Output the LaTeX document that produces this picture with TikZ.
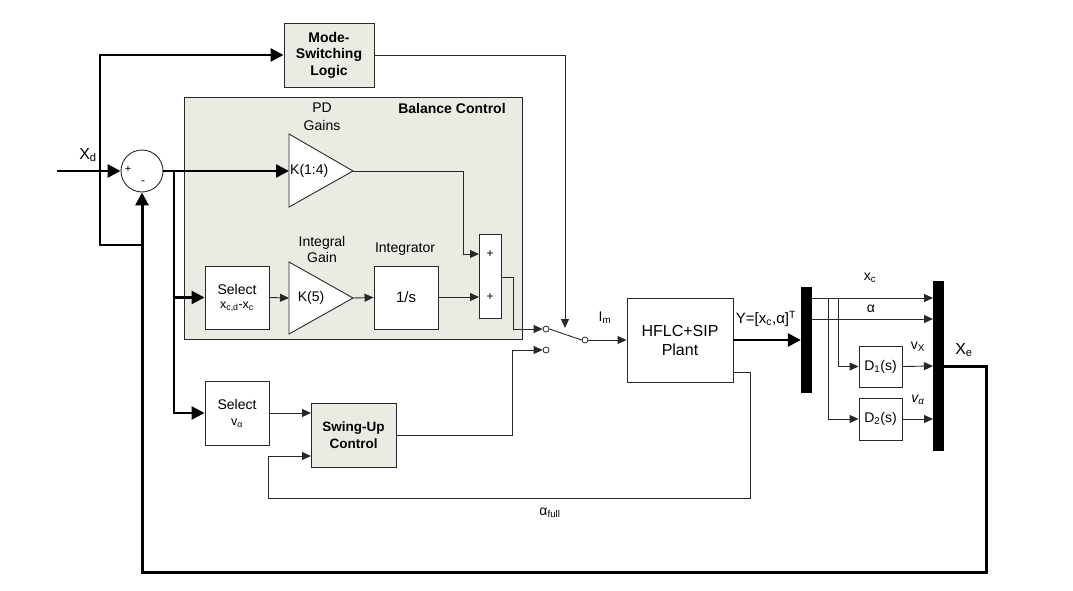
\documentclass[tikz,border=0pt]{standalone}
\usepackage{fontspec}
\setmainfont{Liberation Sans}
\usetikzlibrary{arrows.meta,calc}
\definecolor{regfill}{RGB}{234,236,227}
\definecolor{lin}{RGB}{40,40,40}
\begin{document}
\begin{tikzpicture}[x=1pt,y=-1pt,
  thn/.style={line width=0.9pt,draw=lin},
  thk/.style={line width=2.6pt,draw=black},
  ta/.style={-{Triangle[length=9pt,width=8pt]}},
  tka/.style={-{Triangle[length=13pt,width=13pt]}},
  blk/.style={draw=lin,line width=0.9pt,fill=white,inner sep=0pt,align=center},
  gblk/.style={blk,fill=regfill,font=\fontsize{13}{16}\selectfont\bfseries},
  bar/.style={fill=black,draw=none,inner sep=0pt},
  ct/.style={circle,draw=lin,fill=white,line width=0.8pt,minimum size=6pt,inner sep=0pt},
  lbl/.style={inner sep=0pt,align=center}
]
\useasboundingbox (0,0) rectangle (1073,591);
\fill[white] (0,0) rectangle (1073,591);

% balance control region
\node[draw=lin,line width=0.9pt,fill=regfill,minimum width=338pt,minimum height=242pt,inner sep=0pt] (bal) at (353,218) {};
\node[lbl,font=\fontsize{14}{16}\selectfont\bfseries] (baltxt) at (452,108) {Balance Control};

% blocks
\node[gblk,minimum width=90pt,minimum height=64pt,font=\fontsize{14}{16.5}\selectfont\bfseries] (mode) at (329,55) {Mode-\\Switching\\Logic};
\node[circle,draw=lin,line width=0.9pt,fill=white,minimum size=42pt,inner sep=0pt] (sum) at (142,171) {};
\node[lbl,font=\fontsize{11}{12}\selectfont] (plus) at (128,169) {+};
\node[lbl,font=\fontsize{12}{12}\selectfont] (minus) at (143,183) {-};

\node[blk,minimum width=64pt,minimum height=63pt] (selx) at (237,297.5) {};
\node[lbl,font=\fontsize{14}{16}\selectfont] (selxa) at (237,289) {Select};
\node[lbl,font=\fontsize{12.5}{14}\selectfont] (selxb) at (237,307) {x\textsubscript{c,d}-x\textsubscript{c}};

\node[blk,minimum width=64pt,minimum height=63pt,font=\fontsize{15}{18}\selectfont] (integ) at (406,297.5) {1/s};
\node[blk,minimum width=22pt,minimum height=84pt] (sumbox) at (490,276) {};
\node[lbl,font=\fontsize{12}{12}\selectfont] (sp1) at (490,254) {+};
\node[lbl,font=\fontsize{12}{12}\selectfont] (sp2) at (490,297) {+};

\node[blk,minimum width=64pt,minimum height=64pt] (selv) at (237,413) {};
\node[lbl,font=\fontsize{14}{16}\selectfont] (selva) at (237,404) {Select};
\node[lbl,font=\fontsize{12.5}{14}\selectfont] (selvb) at (237,423) {v\textsubscript{α}};

\node[gblk,minimum width=85pt,minimum height=64pt,font=\fontsize{13.5}{16.5}\selectfont\bfseries] (swing) at (353.5,435) {Swing-Up\\Control};

\node[blk,minimum width=106pt,minimum height=84pt,font=\fontsize{16}{19}\selectfont] (plant) at (680,340) {HFLC+SIP\\Plant};

\node[bar,minimum width=11pt,minimum height=106pt] (mux1) at (806.5,340) {};
\node[bar,minimum width=11pt,minimum height=170pt] (mux2) at (938.5,366) {};
\node[blk,minimum width=43pt,minimum height=41pt,font=\fontsize{14}{16}\selectfont] (d1) at (880.5,366.5) {D\textsubscript{1}(s)};
\node[blk,minimum width=43pt,minimum height=42pt,font=\fontsize{14}{16}\selectfont] (d2) at (880.5,419) {D\textsubscript{2}(s)};

% triangles (gains)
\draw[thn,fill=white] (289,134) -- (353,171) -- (289,207) -- cycle;
\coordinate (k14in) at (289,171);
\coordinate (k14out) at (353,171);
\node[lbl,font=\fontsize{14}{16}\selectfont,anchor=west] (k14) at (290,171) {K(1:4)};
\draw[thn,fill=white] (289,262) -- (353,298) -- (289,334) -- cycle;
\coordinate (k5in) at (289,298);
\coordinate (k5out) at (353,298);
\node[lbl,font=\fontsize{14}{16}\selectfont] (k5) at (311,298) {K(5)};

\node[lbl,font=\fontsize{14}{18}\selectfont] (pdg) at (322,117) {PD\\Gains};
\node[lbl,font=\fontsize{14}{15.5}\selectfont] (ig) at (322,249.5) {Integral\\Gain};
\node[lbl,font=\fontsize{14}{16}\selectfont] (itxt) at (405,249) {Integrator};

% switch contacts
\node[ct] (c1) at (546,329) {};
\node[ct] (c2) at (546,350) {};
\node[ct] (c3) at (585,340) {};

% labels
\node[lbl,font=\fontsize{16}{16}\selectfont] (xd) at (88,155) {X\textsubscript{d}};
\node[lbl,font=\fontsize{14}{16}\selectfont] (im) at (605,318) {I\textsubscript{m}};
\node[lbl,font=\fontsize{15}{16}\selectfont] (ylab) at (766,319) {Y=[x\textsubscript{c},α]\textsuperscript{T}};
\node[lbl,font=\fontsize{14}{16}\selectfont] (xcl) at (870,278) {x\textsubscript{c}};
\node[lbl,font=\fontsize{14}{16}\selectfont] (al) at (871,309) {α};
\node[lbl,font=\fontsize{14}{16}\selectfont] (vxl) at (918,347) {v\textsubscript{X}};
\node[lbl,font=\fontsize{14}{16}\selectfont\itshape] (val) at (918,400) {v\textsubscript{α}};
\node[lbl,font=\fontsize{16}{16}\selectfont] (xel) at (964,350) {X\textsubscript{e}};
\node[lbl,font=\fontsize{14}{16}\selectfont] (afl) at (550,513) {α\textsubscript{full}};

% coordinates
\coordinate (xdin) at (57,171);
\coordinate (br) at (174,171);
\coordinate (fbj) at (142,245);
\coordinate (ml) at (100,245);
\coordinate (sb1) at (479,254);
\coordinate (sb2) at (479,297);
\coordinate (sbout) at (501,277);
\coordinate (swtip) at (565,328);
\coordinate (sw1) at (311,413);
\coordinate (sw2) at (311,456);
\coordinate (pa) at (733,372);
\coordinate (lr) at (750,498);
\coordinate (ll) at (268,498);
\coordinate (m1a) at (812,298);
\coordinate (m2a) at (933,298);
\coordinate (m1b) at (812,319);
\coordinate (m2b) at (933,319);
\coordinate (brd2) at (828,298);
\coordinate (brd1) at (838,298);
\coordinate (m2c) at (933,366);
\coordinate (m2d) at (933,419);
\coordinate (xeo) at (944,366);
\coordinate (fr) at (986,572);
\coordinate (fl) at (142,572);

% thick connectors
\draw[thk,tka] (xdin) -- (sum.west);
\draw[thk,tka] (sum.east) -- (k14in);
\draw[thk,tka] (br) |- (selx.west);
\draw[thk,tka] (br) |- (selv.west);
\draw[thk,tka] (fbj) -- (ml) |- (mode.west);
\draw[thk,tka] (plant.east) -- (mux1.west);
\draw[thk,line width=3pt,tka] (xeo) -| (fr) -- (fl) -- (sum.south);

% thin connectors
\draw[thn,ta] (k14out) -- ++(110,0) |- (sb1);
\draw[thn,ta] (selx.east) -- (k5in);
\draw[thn,ta] (k5out) -- (integ.west);
\draw[thn,ta] (integ.east |- sb2) -- (sb2);
\draw[thn,ta] (sbout) -- ++(12,0) |- (c1.west);
\draw[thn,ta] (swing.east) -- ++(116,0) |- (c2.west);
\draw[thn] (c1.east) -- (c3.west);
\draw[thn,ta] (c3.east) -- (plant.west);
\draw[thn,ta] (mode.east) -| (swtip);
\draw[thn,ta] (selv.east) -- (sw1);
\draw[thn,ta] (pa) -| (lr) -- (ll) |- (sw2);
\draw[thn,ta] (m1a) -- (m2a);
\draw[thn,ta] (m1b) -- (m2b);
\draw[thn,ta] (brd2) |- (d2.west);
\draw[thn,ta] (brd1) |- (d1.west);
\draw[thn,ta] (d1.east) -- (m2c);
\draw[thn,ta] (d2.east) -- (m2d);
\end{tikzpicture}
\end{document}
